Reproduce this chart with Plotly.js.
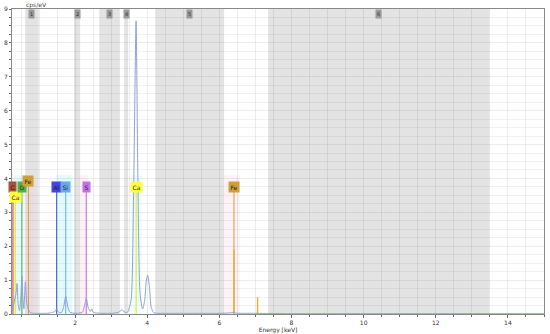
<!DOCTYPE html>
<html>
<head>
<meta charset="utf-8">
<script src="https://cdn.plot.ly/plotly-3.0.1.min.js"></script>
<style>
  html, body { margin: 0; padding: 0; background: #fff; }
  #plot { width: 550px; height: 334px; }
</style>
</head>
<body>
<div id="plot"></div>
<script>
// --- Spectrum (keV, cps/eV) ---
const energy = [0.25, 0.30, 0.36, 0.39, 0.42, 0.46, 0.50, 0.525, 0.55, 0.58, 0.62, 0.66, 0.70, 0.75, 0.85,
  1.0, 1.2, 1.35, 1.45, 1.49, 1.53, 1.62, 1.68, 1.74, 1.80, 1.86, 2.0, 2.2, 2.26, 2.31, 2.36, 2.42, 2.46, 2.50,
  2.6, 2.8, 3.0, 3.2, 3.3, 3.36, 3.45, 3.55, 3.62, 3.69, 3.74, 3.80, 3.87, 3.93, 3.97, 4.01, 4.06, 4.11, 4.18,
  4.5, 5.0, 5.5, 6.0, 6.35, 6.40, 6.45, 7.0, 8.0, 10.0, 12.0, 15.0];
const counts = [0.05, 0.3, 0.6, 0.9, 0.3, 0.1, 0.6, 1.12, 0.5, 0.15, 0.95, 0.3, 0.15, 0.05, 0.02,
  0.02, 0.02, 0.04, 0.08, 0.15, 0.06, 0.04, 0.2, 0.52, 0.2, 0.05, 0.02, 0.05, 0.25, 0.46, 0.2, 0.08, 0.15, 0.05,
  0.03, 0.02, 0.02, 0.05, 0.13, 0.06, 0.05, 0.4, 3.5, 8.65, 4.0, 0.6, 0.15, 0.4, 0.95, 1.15, 0.8, 0.2, 0.04,
  0.02, 0.02, 0.02, 0.02, 0.04, 0.06, 0.03, 0.02, 0.01, 0.01, 0.01, 0.01];

// --- Element markers ---
const elemNames  = ["C", "Ca", "O", "Fe", "Al", "Si", "S", "Ca", "Fe"];
const elemEnergy = [0.277, 0.341, 0.525, 0.705, 1.487, 1.740, 2.308, 3.691, 6.404];
const elemTop    = [3.75, 3.45, 3.75, 3.93, 3.75, 3.75, 3.75, 3.75, 3.75];
const elemColor  = ["#b0503a", "#e8e800", "#4cae4c", "#c9a040", "#5050d8", "#70a8e0", "#b868e0", "#e8e800", "#c9a040"];
const elemBox    = ["#a8503a", "#ffff40", "#55b040", "#d0a038", "#4444e0", "#6aa8e8", "#c070e8", "#ffff40", "#d0a038"];

// secondary lines (Fe Ka intensity, Fe Kb)
const extraEnergy = [6.404, 7.058];
const extraHeight = [1.9, 0.5];

// --- Regions (keV) ---
const bandStart = [0.615, 1.97, 2.67, 3.36, 4.22, 7.35];
const bandEnd   = [0.99, 2.14, 3.24, 3.47, 6.13, 13.48];
const bandLabel = ["1", "2", "3", "4", "5", "6"];

const tintStart = [0.25, 0.34, 0.56, 1.47, 2.11, 3.55, 6.13];
const tintEnd   = [0.34, 0.56, 0.84, 1.92, 2.36, 3.85, 6.57];
const tintColor = ["rgba(255,190,215,0.22)", "rgba(140,240,255,0.25)", "rgba(255,190,215,0.22)",
  "rgba(140,240,255,0.25)", "rgba(255,190,215,0.22)", "rgba(140,240,255,0.15)", "rgba(255,190,215,0.2)"];

const traces = [];

elemEnergy.forEach((e, i) => {
  traces.push({
    x: [e, e], y: [0, elemTop[i]],
    mode: "lines",
    line: { color: elemColor[i], width: 1 },
    hoverinfo: "skip", showlegend: false
  });
});

extraEnergy.forEach((e, i) => {
  traces.push({
    x: [e, e], y: [0, extraHeight[i]],
    mode: "lines",
    line: { color: "#e0b030", width: 1.4 },
    hoverinfo: "skip", showlegend: false
  });
});

traces.push({
  x: energy, y: counts,
  mode: "lines",
  line: { color: "#8da2d8", width: 1, shape: "spline", smoothing: 0.6 },
  showlegend: false
});

const shapes = [];
bandStart.forEach((s, i) => {
  shapes.push({
    type: "rect", xref: "x", yref: "paper", x0: s, x1: bandEnd[i], y0: 0, y1: 1,
    fillcolor: "#e3e3e3", line: { width: 0 }, layer: "below"
  });
});
tintStart.forEach((s, i) => {
  shapes.push({
    type: "rect", xref: "x", yref: "y", x0: s, x1: tintEnd[i], y0: 0, y1: 4.1,
    fillcolor: tintColor[i], line: { width: 0 }, layer: "below"
  });
});

const annotations = [];
bandStart.forEach((s, i) => {
  annotations.push({
    x: (s + bandEnd[i]) / 2, xref: "x", y: 1, yref: "paper", yanchor: "top",
    text: bandLabel[i], showarrow: false,
    font: { family: "DejaVu Sans", size: 5, color: "#333" },
    bgcolor: "#9a9a9a", borderpad: 1
  });
});
elemNames.forEach((n, i) => {
  annotations.push({
    x: elemEnergy[i], y: elemTop[i], xref: "x", yref: "y", yanchor: "middle",
    text: n, showarrow: false,
    font: { family: "DejaVu Sans", size: 6, color: "#222" },
    bgcolor: elemBox[i], borderpad: 1.5
  });
});
annotations.push({
  x: 0.0, xref: "paper", xanchor: "left", y: 1, yref: "paper", yanchor: "bottom", yshift: -2,
  text: "cps/eV", showarrow: false, xshift: 12,
  font: { family: "DejaVu Sans", size: 6, color: "#444" }
});

const layout = {
  width: 550, height: 334,
  margin: { l: 12, r: 6, t: 9, b: 20 },
  paper_bgcolor: "#fff",
  plot_bgcolor: "#fff",
  font: { family: "DejaVu Sans", size: 6, color: "#333" },
  xaxis: {
    range: [0.25, 15], dtick: 2, tick0: 0,
    showgrid: true, gridcolor: "rgba(0,0,0,0.07)",
    minor: { dtick: 0.5, showgrid: true, gridcolor: "rgba(0,0,0,0.07)", ticks: "outside", ticklen: 2, tickcolor: "#666" },
    ticks: "outside", ticklen: 3, tickcolor: "#666",
    showline: true, linecolor: "#888", mirror: true, zeroline: false,
    tickfont: { size: 6, color: "#333" },
    title: { text: "Energy [keV]", font: { size: 6, color: "#333" }, standoff: 2 }
  },
  yaxis: {
    range: [0, 9], dtick: 1,
    showgrid: true, gridcolor: "rgba(0,0,0,0.07)",
    minor: { dtick: 0.25, showgrid: true, gridcolor: "rgba(0,0,0,0.05)", ticks: "outside", ticklen: 2, tickcolor: "#666" },
    ticks: "outside", ticklen: 2, tickcolor: "#666",
    showline: true, linecolor: "#888", mirror: true, zeroline: false,
    tickfont: { size: 6, color: "#333" }
  },
  shapes: shapes,
  annotations: annotations
};

Plotly.newPlot("plot", traces, layout, { displayModeBar: false, staticPlot: true });
</script>
</body>
</html>
